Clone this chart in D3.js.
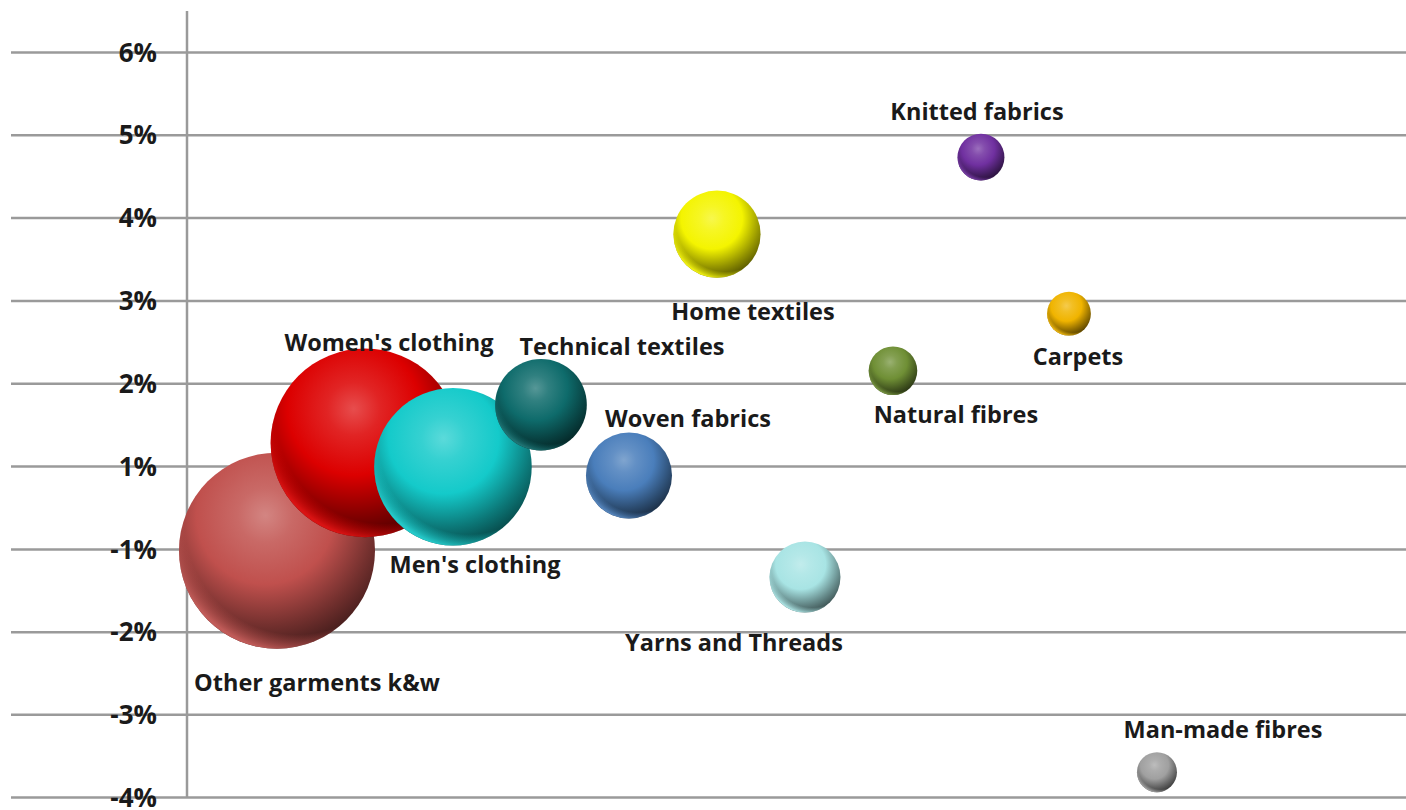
<!DOCTYPE html>
<html>
<head>
<meta charset="utf-8">
<script src="https://cdn.jsdelivr.net/npm/d3@7"></script>
<style>
  body { margin: 0; background: #fff; }
  svg { display: block; }
  text { font-family: "Open Sans", sans-serif; font-weight: 700; fill: #1a1a1a; }
</style>
</head>
<body>
<script>
const categories = [
  "Other garments k&w", "Women's clothing", "Men's clothing", "Technical textiles",
  "Woven fabrics", "Home textiles", "Yarns and Threads", "Natural fibres",
  "Knitted fabrics", "Carpets", "Man-made fibres"
];
const xValues = [1, 2, 3, 4, 5, 6, 7, 8, 9, 10, 11];
const growth = [-1.02, 1.28, 0.98, 1.74, 0.77, 3.80, -1.34, 2.15, 4.73, 2.84, -3.70];
const sizes = [96, 89, 62, 21, 18.5, 19, 12.6, 5.9, 5.5, 4.8, 4.0];
const yTicks = [6, 5, 4, 3, 2, 1, -1, -2, -3, -4];

// styling / label placement
const colors = ["#c0504d", "#dc0000", "#14caca", "#0e6b6b", "#4a7ebb", "#f4f400",
  "#a8e4e4", "#6f8f35", "#7030a0", "#f0b400", "#a0a0a0"];
const labelOffsets = [[40, 131], [24, -101], [22, 97], [81, -59], [59, -58], [36, 77],
  [-71, 65], [63, 43], [-4, -46], [9, 42], [66, -43]];

const w = 1406;
const h = 810;

const svg = d3.select("body")
  .append("svg")
  .attr("width", w)
  .attr("height", h);

const x = d3.scaleLinear().domain([0, 13.83]).range([189, 1406]);
// axis has no 0% step: -1% sits right under 1%
const y = d3.scaleLinear().domain([-4, -1, 1, 6]).range([797, 549, 466, 52]);
const r = d3.scaleSqrt().domain([0, d3.max(sizes)]).range([0, 98]);

// gridlines
svg.append("g")
  .attr("transform", "translate(11,0)")
  .call(d3.axisRight(y).tickValues(yTicks).tickSize(w - 11).tickFormat(""))
  .call(g => g.select(".domain").remove())
  .call(g => g.selectAll("line").attr("stroke", "#9a9a9a").attr("stroke-width", 2.5));

// vertical axis line
svg.append("line")
  .attr("x1", 187).attr("x2", 187)
  .attr("y1", 11).attr("y2", y(-4))
  .attr("stroke", "#9a9a9a")
  .attr("stroke-width", 2.5);

// tick labels
svg.append("g")
  .attr("transform", "translate(187,0)")
  .call(d3.axisLeft(y).tickValues(yTicks).tickSize(0).tickPadding(30).tickFormat(d => d + "%"))
  .call(g => g.select(".domain").remove())
  .call(g => g.selectAll("text")
    .attr("fill", "#1a1a1a")
    .attr("dy", "0.35em")
    .style("font-family", "'Open Sans', sans-serif")
    .style("font-weight", 700)
    .style("font-size", "26px"));

const data = categories.map((c, i) => ({
  name: c, x: xValues[i], y: growth[i], size: sizes[i], color: colors[i], off: labelOffsets[i]
}));

const defs = svg.append("defs");

data.forEach((d, i) => {
  const base = d3.color(d.color);
  const light = d3.interpolateRgb(base, "#ffffff");
  const dark = d3.interpolateRgb(base, "#000000");

  const g = defs.append("radialGradient")
    .attr("id", `shade-${i}`)
    .attr("cx", 0.44).attr("cy", 0.32).attr("r", 0.78)
    .attr("fx", 0.44).attr("fy", 0.32);
  [[0, light(0.3)], [0.18, light(0.14)], [0.45, base.formatHex()],
   [0.72, dark(0.4)], [0.92, dark(0.68)], [1, dark(0.75)]]
    .forEach(([o, c]) => g.append("stop").attr("offset", o).attr("stop-color", c));

  const rim = defs.append("radialGradient")
    .attr("id", `rim-${i}`)
    .attr("cx", 0.6).attr("cy", 0.36).attr("r", 0.66);
  rim.append("stop").attr("offset", 0.86).attr("stop-color", base.formatHex()).attr("stop-opacity", 0);
  rim.append("stop").attr("offset", 1).attr("stop-color", light(0.08)).attr("stop-opacity", 0.95);
});

const bubbles = svg.selectAll("g.bubble")
  .data(data)
  .enter()
    .append("g")
    .attr("class", "bubble");

bubbles.append("circle")
  .attr("cx", d => x(d.x))
  .attr("cy", d => y(d.y))
  .attr("r", d => r(d.size))
  .attr("fill", (d, i) => `url(#shade-${i})`);

bubbles.append("circle")
  .attr("cx", d => x(d.x))
  .attr("cy", d => y(d.y))
  .attr("r", d => r(d.size))
  .attr("fill", (d, i) => `url(#rim-${i})`);

svg.selectAll("text.label")
  .data(data)
  .enter()
    .append("text")
    .attr("class", "label")
    .attr("x", d => x(d.x) + d.off[0])
    .attr("y", d => y(d.y) + d.off[1])
    .attr("text-anchor", "middle")
    .attr("dominant-baseline", "central")
    .style("font-size", "23.5px")
    .text(d => d.name);
</script>
</body>
</html>
